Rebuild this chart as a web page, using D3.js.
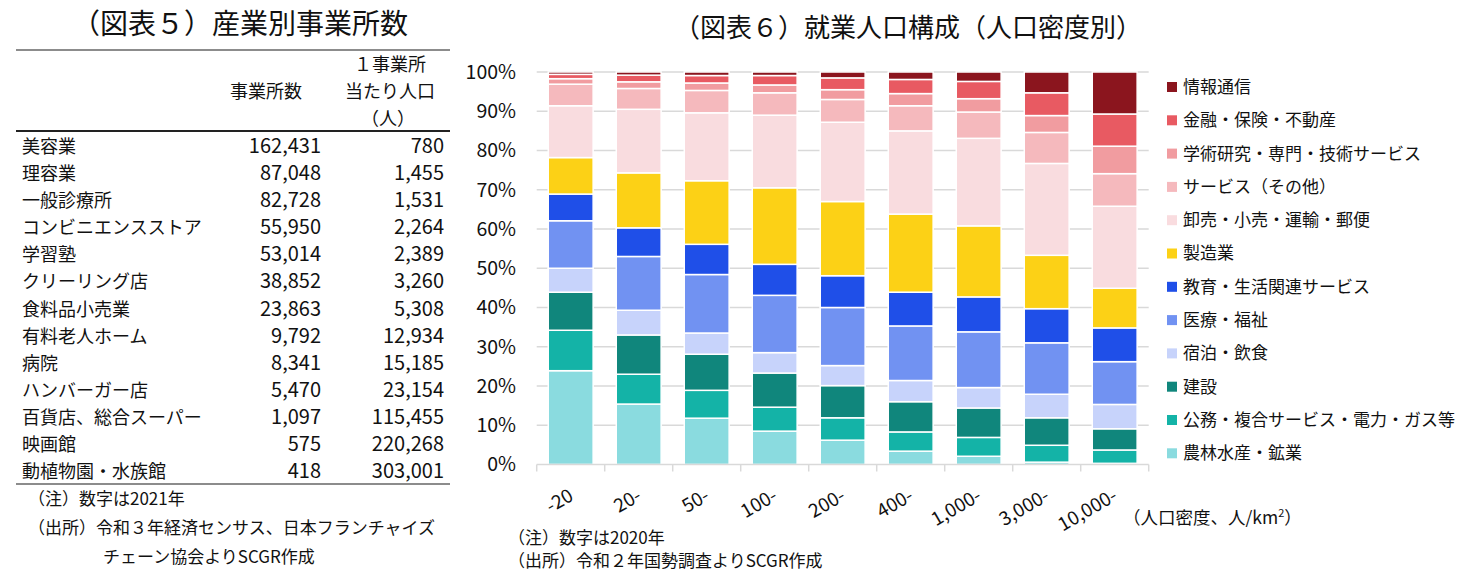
<!DOCTYPE html>
<meta charset="UTF-8"/>
<style>
  body { margin: 0; background: #fff; }
  * { font-family: 'Noto Sans CJK JP', 'Noto Sans', sans-serif; }
</style>
<svg width="1462" height="577"></svg>
<script src="https://d3js.org/d3.v7.min.js"></script>
<script>
// ---- table (図表5) ----
var tableRows = ["美容業", "理容業", "一般診療所", "コンビニエンスストア", "学習塾", "クリーリング店",
  "食料品小売業", "有料老人ホーム", "病院", "ハンバーガー店", "百貨店、総合スーパー", "映画館", "動植物園・水族館"];
var tableCount = ["162,431", "87,048", "82,728", "55,950", "53,014", "38,852",
  "23,863", "9,792", "8,341", "5,470", "1,097", "575", "418"];
var tablePerPop = ["780", "1,455", "1,531", "2,264", "2,389", "3,260",
  "5,308", "12,934", "15,185", "23,154", "115,455", "220,268", "303,001"];

// ---- stacked bars (図表6) ----
var densities = ["-20", "20-", "50-", "100-", "200-", "400-", "1,000-", "3,000-", "10,000-"];
var sectors = ["農林水産・鉱業", "公務・複合サービス・電力・ガス等", "建設", "宿泊・飲食", "医療・福祉",
  "教育・生活関連サービス", "製造業", "卸売・小売・運輸・郵便", "サービス（その他）",
  "学術研究・専門・技術サービス", "金融・保険・不動産", "情報通信"];
var sectorColors = ["#8adbdf", "#14b3a7", "#10867c", "#c7d3fb", "#7192f2", "#1f4fe8",
  "#fcd116", "#f9dcdf", "#f5b9bd", "#f19ca0", "#e85a62", "#8b151e"];
var agriculture = [23.9, 15.4, 11.8, 8.5, 6.2, 3.4, 2.1, 0.6, 0.3];
var publicUtil  = [10.3, 7.6, 7.1, 6.1, 5.7, 4.9, 4.8, 4.3, 3.4];
var construction = [9.7, 10.0, 9.2, 8.7, 8.2, 7.7, 7.5, 7.0, 5.4];
var hospitality = [6.1, 6.3, 5.4, 5.2, 5.1, 5.4, 5.2, 6.0, 6.2];
var medical     = [12.1, 13.7, 14.9, 14.6, 14.8, 13.9, 14.2, 13.1, 10.9];
var education   = [6.8, 7.3, 7.7, 7.9, 8.1, 8.6, 8.9, 8.7, 8.6];
var manufacturing = [9.3, 14.0, 16.2, 19.5, 18.9, 19.9, 18.1, 13.6, 10.1];
var trade       = [13.2, 16.2, 17.3, 18.5, 20.2, 21.2, 22.3, 23.4, 20.9];
var otherService = [5.5, 5.3, 5.7, 5.7, 5.8, 6.4, 6.7, 7.9, 8.3];
var research    = [1.4, 1.7, 1.9, 2.0, 2.5, 3.1, 3.4, 4.3, 7.0];
var finance     = [1.1, 1.7, 1.9, 2.4, 3.0, 3.6, 4.4, 5.8, 8.2];
var infoComm    = [0.6, 0.8, 0.9, 0.9, 1.5, 1.9, 2.4, 5.3, 10.7];
var yTicks = [0, 10, 20, 30, 40, 50, 60, 70, 80, 90, 100];

var seriesValues = [agriculture, publicUtil, construction, hospitality, medical, education,
  manufacturing, trade, otherService, research, finance, infoComm];

var svg = d3.select("svg");

// ---------- table ----------
var t = svg.append("g");
t.append("text").attr("x", 240).attr("y", 34).attr("text-anchor", "middle")
  .style("font-size", "28px").attr("fill", "#111").text("（図表５）産業別事業所数");

t.append("line").attr("x1", 16).attr("x2", 450).attr("y1", 50).attr("y2", 50)
  .attr("stroke", "#666").attr("stroke-width", 1.3);
t.append("line").attr("x1", 16).attr("x2", 450).attr("y1", 131).attr("y2", 131)
  .attr("stroke", "#222").attr("stroke-width", 2);
t.append("line").attr("x1", 16).attr("x2", 450).attr("y1", 484).attr("y2", 484)
  .attr("stroke", "#666").attr("stroke-width", 1.3);

var hdr = [["事業所数", 266, 98], ["１事業所", 390, 71], ["当たり人口", 390, 98], ["（人）", 388, 125]];
t.selectAll(".hdr").data(hdr).join("text")
  .attr("x", function(d) { return d[1]; }).attr("y", function(d) { return d[2]; })
  .attr("text-anchor", "middle").style("font-size", "18px").attr("fill", "#111")
  .text(function(d) { return d[0]; });

var rowY = d3.scalePoint().domain(d3.range(tableRows.length)).range([153, 478]);
tableRows.forEach(function(name, i) {
  t.append("text").attr("x", 22).attr("y", rowY(i)).style("font-size", "18px")
    .attr("fill", "#111").text(name);
  t.append("text").attr("x", 321).attr("y", rowY(i)).attr("text-anchor", "end")
    .style("font-size", "20px").attr("fill", "#111").text(tableCount[i]);
  t.append("text").attr("x", 444).attr("y", rowY(i)).attr("text-anchor", "end")
    .style("font-size", "20px").attr("fill", "#111").text(tablePerPop[i]);
});

t.append("text").attr("x", 28).attr("y", 505).style("font-size", "17px").attr("fill", "#111")
  .text("（注）数字は2021年");
t.append("text").attr("x", 28).attr("y", 534).style("font-size", "17px").attr("fill", "#111")
  .text("（出所）令和３年経済センサス、日本フランチャイズ");
t.append("text").attr("x", 103).attr("y", 563).style("font-size", "17px").attr("fill", "#111")
  .text("チェーン協会よりSCGR作成");

// ---------- stacked bar chart ----------
svg.append("text").attr("x", 908).attr("y", 37).attr("text-anchor", "middle")
  .style("font-size", "26px").attr("fill", "#111").text("（図表６）就業人口構成（人口密度別）");

var x = d3.scaleBand().domain(densities).range([536.7, 1148.7]).paddingInner(0.34).paddingOuter(0.17);
var y = d3.scaleLinear().domain([0, 100]).range([464.5, 72]);

var rows = densities.map(function(c, i) {
  var r = { cat: c };
  sectors.forEach(function(s, k) { r[s] = seriesValues[k][i]; });
  return r;
});
var stacked = d3.stack().keys(sectors)(rows);

// gridlines
svg.append("g").selectAll("line").data(yTicks.slice(1)).join("line")
  .attr("x1", 536.7).attr("x2", 1148.7)
  .attr("y1", function(d) { return y(d); }).attr("y2", function(d) { return y(d); })
  .attr("stroke", "#d9d9d9").attr("stroke-width", 1.5);

// y labels
svg.append("g").selectAll("text").data(yTicks).join("text")
  .attr("x", 516).attr("y", function(d) { return y(d); }).attr("dy", "0.35em")
  .attr("text-anchor", "end").style("font-size", "19.5px").attr("fill", "#111")
  .text(function(d) { return d + "%"; });

// bars
svg.append("g").selectAll("g").data(stacked).join("g")
  .attr("fill", function(d, i) { return sectorColors[i]; })
  .selectAll("rect").data(function(d) { return d; }).join("rect")
  .attr("x", function(d) { return x(d.data.cat); })
  .attr("width", x.bandwidth())
  .attr("y", function(d) { return y(d[1]); })
  .attr("height", function(d) { return y(d[0]) - y(d[1]); })
  .attr("stroke", "#fff").attr("stroke-width", 1.5);

// x axis
var xAxis = svg.append("g").attr("transform", "translate(0," + y(0) + ")");
xAxis.append("line").attr("x1", 536.7).attr("x2", 1148.7).attr("stroke", "#d9d9d9").attr("stroke-width", 1.5);
xAxis.selectAll(".tk").data(d3.range(densities.length + 1)).join("line")
  .attr("x1", function(i) { return 536.7 + i * x.step(); })
  .attr("x2", function(i) { return 536.7 + i * x.step(); })
  .attr("y1", 0).attr("y2", 7).attr("stroke", "#d9d9d9").attr("stroke-width", 1.5);
xAxis.selectAll(".lbl").data(densities).join("text")
  .attr("text-anchor", "end").style("font-size", "19px").attr("fill", "#111")
  .attr("transform", function(d) {
    return "translate(" + (x(d) + x.bandwidth() / 2 + 4) + ",35) rotate(-30)";
  })
  .text(function(d) { return d; });

var unit = svg.append("text").attr("x", 1123).attr("y", 524).style("font-size", "17.5px").attr("fill", "#111");
unit.append("tspan").text("（人口密度、人/km");
unit.append("tspan").attr("dy", -7).style("font-size", "11px").text("2");
unit.append("tspan").attr("dy", 7).text("）");

// legend (top = 情報通信)
var legendItems = sectors.map(function(s, i) { return { name: s, color: sectorColors[i] }; }).reverse();
var lg = svg.append("g").selectAll("g").data(legendItems).join("g")
  .attr("transform", function(d, i) { return "translate(1167," + (87 + i * 33.3) + ")"; });
lg.append("rect").attr("x", 0).attr("y", -5).attr("width", 10).attr("height", 10)
  .attr("fill", function(d) { return d.color; });
lg.append("text").attr("x", 16).attr("dy", "0.35em").style("font-size", "17px").attr("fill", "#111")
  .text(function(d) { return d.name; });

// notes
svg.append("text").attr("x", 508).attr("y", 544).style("font-size", "17px").attr("fill", "#111")
  .text("（注）数字は2020年");
svg.append("text").attr("x", 508).attr("y", 567).style("font-size", "17px").attr("fill", "#111")
  .text("（出所）令和２年国勢調査よりSCGR作成");
</script>
